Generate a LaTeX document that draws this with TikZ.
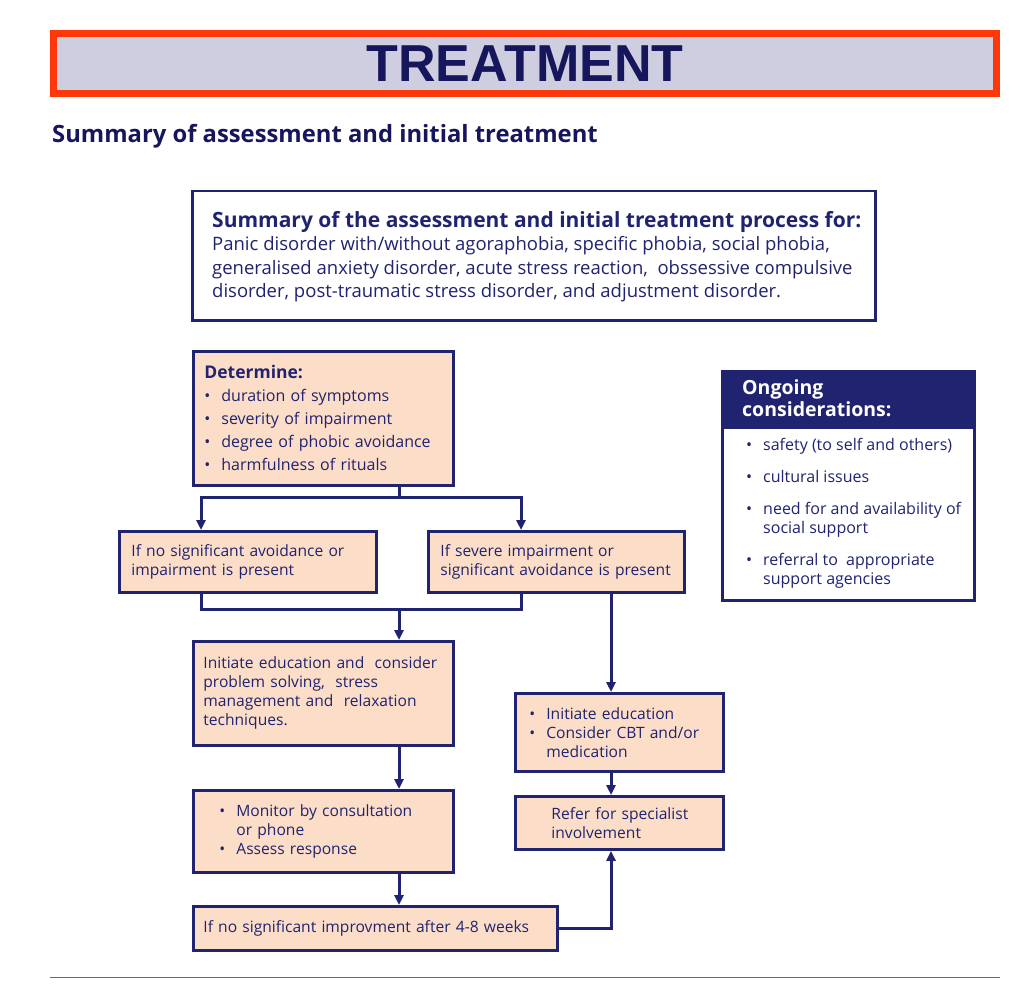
\documentclass[tikz,border=0pt]{standalone}
\usepackage{fontspec}
\setmainfont{Open Sans}
\newfontfamily\titlefont{Liberation Sans}
\usetikzlibrary{arrows.meta,positioning,calc}
\definecolor{navy}{RGB}{32,36,112}
\definecolor{titlenavy}{RGB}{22,22,92}
\definecolor{peach}{RGB}{252,221,199}
\definecolor{lavender}{RGB}{206,206,224}
\definecolor{alertred}{RGB}{255,56,10}
\newcommand{\itm}{\makebox[17pt][l]{\textbullet}}
\newcommand{\cont}{\hspace*{17pt}}

\begin{document}
\begin{tikzpicture}[x=1pt,y=-1pt,
    every node/.style={text=navy,inner sep=0pt},
    flow/.style={draw=navy,line width=2.8pt,fill=peach,anchor=north west,
        align=left,inner xsep=10pt,font=\fontsize{15.6}{19}\selectfont},
    plain/.style={draw=navy,line width=2.5pt,fill=white,anchor=north west},
    arr/.style={-{Triangle[length=10pt,width=9pt]},line width=3pt,navy},
    link/.style={line width=3pt,navy}]
  \useasboundingbox (0,0) rectangle (1024,992);
  % heading
  \node[draw=alertred,fill=lavender,line width=7pt,minimum width=943pt,
        minimum height=60pt,text=titlenavy,font=\titlefont\bfseries\fontsize{52}{52}\selectfont]
        (title) at (525,63.5) {TREATMENT};
  \node[anchor=base west,font=\bfseries\fontsize{23.8}{26}\selectfont,text=titlenavy]
        (sub) at (52,143) {Summary of assessment and initial treatment};
  % summary of the process
  \node[plain,minimum width=683pt,minimum height=129pt] (summ) at (191,190) {};
  \node[anchor=west,align=left,font=\fontsize{18.5}{23.5}\selectfont]
        (summtxt) at ([xshift=21pt,yshift=-1pt]summ.west)
        {{\bfseries\fontsize{21}{23.5}\selectfont Summary of the assessment and initial treatment process for:}\\
         Panic disorder with/without agoraphobia, specific phobia, social phobia,\\
         generalised anxiety disorder, acute stress reaction,~ obssessive compulsive\\
         disorder, post-traumatic stress disorder, and adjustment disorder.};
  % flow boxes
  \node[flow,inner xsep=11pt,text width=238pt,minimum height=134pt,
        font=\fontsize{16}{23}\selectfont] (det) at (192,350)
        {{\bfseries\fontsize{17.5}{22}\selectfont Determine:}\\
         \itm duration of symptoms\\
         \itm severity of impairment\\
         \itm degree of phobic avoidance\\
         \itm harmfulness of rituals};
  \node[flow,inner xsep=12pt,text width=233pt,minimum height=61pt] (noimp) at (118,530)
        {If no significant avoidance or\\impairment is present};
  \node[flow,inner xsep=12pt,text width=232pt,minimum height=61pt] (sevimp) at (427,530)
        {If severe impairment or\\significant avoidance is present};
  \node[flow,text width=240pt,minimum height=104pt] (init) at (192,640)
        {Initiate education and~ consider\\problem solving,~ stress\\management and~ relaxation\\techniques.};
  \node[flow,text width=240pt,minimum height=82pt] (mon) at (192,789)
        {\hspace*{16pt}\itm Monitor by consultation\\
         \hspace*{16pt}\cont or phone\\
         \hspace*{16pt}\itm Assess response};
  \node[flow,text width=344pt,minimum height=44pt] (noimpr) at (192,905)
        {If no significant improvment after 4-8 weeks};
  \node[flow,inner xsep=14pt,text width=180pt,minimum height=78pt] (cbt) at (514,692)
        {\itm Initiate education\\
         \itm Consider CBT and/or\\
         \cont medication};
  \node[flow,inner xsep=30pt,text width=148pt,minimum height=53pt] (refer) at (514,795)
        {\hspace*{6pt}Refer for specialist\\\hspace*{6pt}involvement};
  % ongoing considerations
  \node[plain,minimum width=252pt,minimum height=173pt] (ongo) at (721,426) {};
  \node[anchor=west,align=left,font=\fontsize{16}{19}\selectfont]
        (ongotxt) at ([xshift=25pt]ongo.west)
        {\itm safety (to self and others)\\[13pt]
         \itm cultural issues\\[13pt]
         \itm need for and availability of\\
         \cont social support\\[13pt]
         \itm referral to~ appropriate\\
         \cont support agencies};
  \node[draw=navy,fill=navy,line width=2.5pt,anchor=south west,
        minimum width=252pt,minimum height=54pt] (ongohd) at (ongo.north west) {};
  \node[anchor=west,align=left,text=white,font=\bfseries\fontsize{19.5}{22}\selectfont]
        (ongohdtxt) at ([xshift=21pt]ongohd.west) {Ongoing\\considerations:};
  % connectors
  \coordinate (fork) at (399,497);
  \coordinate (join) at (399,609);
  \coordinate (lcol) at (201,0);
  \coordinate (rcol) at (521,0);
  \coordinate (mcol) at (611,0);
  \draw[link] (det.south -| fork) -- (fork);
  \draw[arr] (fork) -| (noimp.north -| lcol);
  \draw[arr] (fork) -| (sevimp.north -| rcol);
  \draw[link] (noimp.south -| lcol) |- (join) -| (sevimp.south -| rcol);
  \draw[arr] (join) -- (init.north -| join);
  \draw[arr] (sevimp.south -| mcol) -- (cbt.north -| mcol);
  \draw[arr] (init.south -| join) -- (mon.north -| join);
  \draw[arr] (mon.south -| join) -- (noimpr.north -| join);
  \draw[arr] (cbt.south -| mcol) -- (refer.north -| mcol);
  \draw[arr] (noimpr.east) -| (refer.south -| mcol);
  % rule at the foot
  \draw[navy!70,line width=1pt] (50,977) -- (1000,977);
\end{tikzpicture}
\end{document}
